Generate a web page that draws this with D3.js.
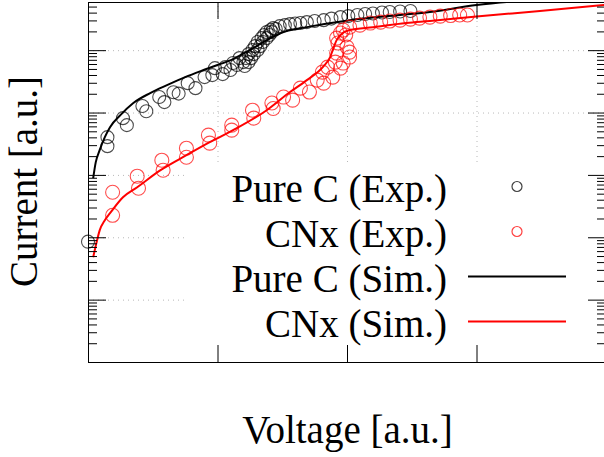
<!DOCTYPE html>
<meta charset="utf-8">
<style>
body { margin: 0; background: #fff; }
svg { display: block; background: #fff; }
text { font-family: "Liberation Serif", "Times New Roman", serif; fill: #000; }
.grid line { stroke: #b8b8b8; stroke-width: 1; stroke-dasharray: 1,4; }
.grid path { display: none; }
.ax path, .ax line { stroke: #000; stroke-width: 1; }
</style>
<svg width="604" height="457"></svg>
<script src="https://d3js.org/d3.v7.min.js"></script>
<script>

// measured points, Pure C
var pureExpV = [0, 0.15, 0.15, 0.27, 0.30, 0.42, 0.45, 0.55, 0.59, 0.66, 0.70, 0.77, 0.83, 0.90,
  0.96, 0.98, 1.04, 1.06, 1.10, 1.12, 1.15, 1.17,
  1.20, 1.22, 1.24, 1.27, 1.29, 1.31, 1.34, 1.36, 1.38, 1.41, 1.43,
  1.21, 1.24, 1.26, 1.28, 1.31, 1.33, 1.35, 1.38, 1.40, 1.42, 1.45,
  1.48, 1.52, 1.56, 1.60, 1.64, 1.69, 1.75, 1.82, 1.88, 1.95, 2.01, 2.08, 2.14, 2.20, 2.27, 2.33, 2.41, 2.49];
var pureExpI = [85, 4030, 2890, 8130, 6280, 12700, 10500, 17700, 14700, 21200, 20100, 29600, 24600, 37000,
  39800, 51500, 41300, 53500, 48000, 62100, 57700, 74600,
  64400, 74600, 86500, 100400, 116000, 135000, 156000, 175000, 195000, 210000, 226000,
  55600, 64400, 74600, 86500, 100400, 116000, 135000, 156000, 175000, 195000, 218000,
  243000, 252000, 262000, 267000, 272000, 282000, 293000, 303000, 321000, 339000, 352000, 366000, 380000, 387000, 401000, 409000, 417000, 425000];

// measured points, CNx
var cnxExpV = [0.19, 0.19, 0.38, 0.39, 0.57, 0.58, 0.76, 0.76, 0.93, 0.94, 1.11, 1.11, 1.27, 1.28,
  1.42, 1.43, 1.51, 1.58, 1.64, 1.71, 1.77, 1.81, 1.82, 1.85, 1.89, 1.91, 1.95, 1.92, 1.97, 2.02, 2.02,
  2.00, 1.93, 1.92, 1.95, 1.97, 1.99, 2.02, 2.10, 2.18, 2.26, 2.33, 2.41, 2.49, 2.56, 2.64, 2.72, 2.80, 2.87, 2.93];
var cnxExpI = [527, 225, 953, 612, 1720, 1190, 2680, 1920, 4340, 3230, 6280, 5220, 10900, 8130,
  14200, 11600, 17700, 15800, 24600, 21300, 33100, 44500, 29600, 53500, 37000, 64400, 51600, 89800, 62100, 77500, 93100,
  112000, 130000, 156000, 188000, 210000, 175000, 234000, 252000, 272000, 282000, 293000, 303000, 315000, 327000, 339000, 352000, 359000, 366000, 366000];

// simulation curves
var pureSimV = [0.04, 0.06, 0.09, 0.13, 0.17, 0.25, 0.35, 0.48, 0.61, 0.75, 0.87, 1.00, 1.12, 1.25, 1.38, 1.51, 1.69, 2.02, 2.41, 2.64, 3.00, 3.44];
var pureSimI = [885, 1600, 2490, 4030, 5830, 9080, 14200, 20500, 27500, 37000, 46200, 57700, 72000, 100400, 145000, 195000, 234000, 303000, 366000, 409000, 530000, 637000];

var cnxSimV = [0.04, 0.07, 0.09, 0.13, 0.17, 0.27, 0.38, 0.56, 0.76, 0.94, 1.12, 1.38, 1.56, 1.69, 1.82, 1.87, 1.89, 1.92, 1.95, 2.02, 2.20, 2.46, 2.64, 3.00, 3.49, 3.99];
var cnxSimI = [47.8, 89.5, 129, 188, 243, 438, 635, 1190, 2070, 3350, 5220, 10900, 21300, 33100, 55600, 77500, 100400, 145000, 175000, 210000, 234000, 272000, 293000, 346000, 425000, 530000];

var legendLabels = ["Pure C (Exp.)", "CNx (Exp.)", "Pure C (Sim.)", "CNx (Sim.)"];
var decades = [1, 10, 100, 1e3, 1e4, 1e5];
var xTicks = [0, 1, 2, 3, 4];

var svg = d3.select("svg");
var pLeft = 88, pRight = 606, pTop = 2, pBottom = 362;

var x = d3.scaleLinear().domain([0, 4]).range([pLeft, pRight]);
var y = d3.scaleLog().domain([1, 5.92e5]).range([pBottom, pTop]);

var minors = [];
decades.forEach(function(d) {
  for (var k = 2; k <= 9; k++) if (d * k < 5.92e5) minors.push(d * k);
});

svg.append("clipPath").attr("id", "clip")
  .append("rect").attr("x", pLeft).attr("y", pTop).attr("width", pRight - pLeft).attr("height", pBottom - pTop);

// grid
svg.append("g").attr("class", "grid")
  .attr("transform", "translate(" + pLeft + ",0)")
  .call(d3.axisLeft(y).tickValues(decades.slice(1)).tickSize(-(pRight - pLeft)).tickFormat(""));
svg.append("g").attr("class", "grid")
  .attr("transform", "translate(0," + pBottom + ")")
  .call(d3.axisBottom(x).tickValues([1, 2, 3]).tickSize(-(pBottom - pTop)).tickFormat(""));

var plot = svg.append("g").attr("clip-path", "url(#clip)");

function zip(a, b) { return a.map(function(v, i) { return [v, b[i]]; }); }

var line = d3.line()
  .x(function(d) { return x(d[0]); })
  .y(function(d) { return y(d[1]); })
  .curve(d3.curveMonotoneX);

plot.append("path").datum(zip(pureSimV, pureSimI))
  .attr("d", line).attr("fill", "none").attr("stroke", "#000").attr("stroke-width", 2);
plot.append("path").datum(zip(cnxSimV, cnxSimI))
  .attr("d", line).attr("fill", "none").attr("stroke", "#ff0000").attr("stroke-width", 2);

svg.append("g").selectAll("circle")
  .data(zip(pureExpV, pureExpI)).enter().append("circle")
  .attr("cx", function(d) { return x(d[0]); })
  .attr("cy", function(d) { return y(d[1]); })
  .attr("r", 6.5)
  .attr("fill", "none").attr("stroke", "#000").attr("stroke-opacity", 0.7).attr("stroke-width", 1.1);

svg.append("g").selectAll("circle")
  .data(zip(cnxExpV, cnxExpI)).enter().append("circle")
  .attr("cx", function(d) { return x(d[0]); })
  .attr("cy", function(d) { return y(d[1]); })
  .attr("r", 7)
  .attr("fill", "none").attr("stroke", "#ff0000").attr("stroke-opacity", 0.7).attr("stroke-width", 1.1);

// opaque key box
svg.append("rect").attr("x", 186).attr("y", 165).attr("width", pRight - 186).attr("height", pBottom - 165).attr("fill", "#fff");

// borders and ticks
function ax(g) { g.attr("class", "ax"); }
svg.append("g").call(ax).attr("transform", "translate(" + pLeft + ",0)")
  .call(d3.axisLeft(y).tickValues(decades).tickSize(-18).tickSizeOuter(0).tickFormat(""));
svg.append("g").call(ax).attr("transform", "translate(" + pLeft + ",0)")
  .call(d3.axisLeft(y).tickValues(minors).tickSize(-9).tickSizeOuter(0).tickFormat(""))
  .select(".domain").remove();
svg.append("g").call(ax).attr("transform", "translate(" + pRight + ",0)")
  .call(d3.axisRight(y).tickValues(decades).tickSize(-18).tickSizeOuter(0).tickFormat(""));
svg.append("g").call(ax).attr("transform", "translate(" + pRight + ",0)")
  .call(d3.axisRight(y).tickValues(minors).tickSize(-9).tickSizeOuter(0).tickFormat(""))
  .select(".domain").remove();
svg.append("g").call(ax).attr("transform", "translate(0," + pBottom + ")")
  .call(d3.axisBottom(x).tickValues(xTicks).tickSize(-17).tickSizeOuter(0).tickFormat(""));
svg.append("g").call(ax).attr("transform", "translate(0," + pTop + ")")
  .call(d3.axisTop(x).tickValues(xTicks).tickSize(-17).tickSizeOuter(0).tickFormat(""));
svg.selectAll(".ax .domain").attr("stroke", "#444");

// key
var key = svg.append("g");
legendLabels.forEach(function(lab, i) {
  var by = 201.5 + i * 45;
  key.append("text").attr("x", 447).attr("y", by).attr("text-anchor", "end")
    .style("font-size", "39px").text(lab);
  var cy = by - 15;
  if (i < 2) {
    key.append("circle").attr("cx", 517).attr("cy", cy).attr("r", 5)
      .attr("fill", "none").attr("stroke", i == 0 ? "#000" : "#ff0000")
      .attr("stroke-opacity", 0.75).attr("stroke-width", 1.2);
  } else {
    key.append("line").attr("x1", 468).attr("x2", 566).attr("y1", cy).attr("y2", cy)
      .attr("stroke", i == 2 ? "#000" : "#ff0000").attr("stroke-width", 2);
  }
});

// axis titles
svg.append("text").attr("x", 347.5).attr("y", 443).attr("text-anchor", "middle")
  .style("font-size", "39px").text("Voltage [a.u.]");
svg.append("text").attr("transform", "translate(37,181.5) rotate(-90)").attr("text-anchor", "middle")
  .style("font-size", "39px").text("Current [a.u.]");

</script>
